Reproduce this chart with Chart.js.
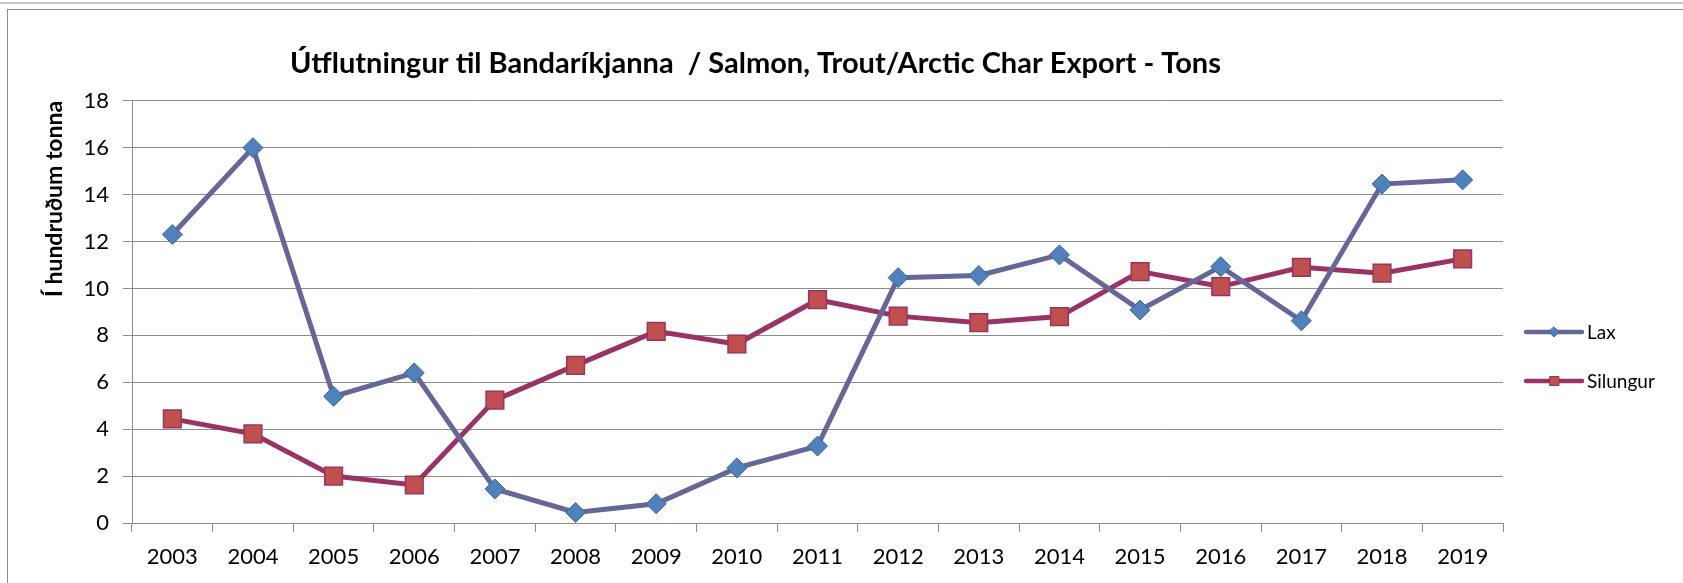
<!DOCTYPE html>
<html>
<head>
<meta charset="utf-8">
<script src="https://cdn.jsdelivr.net/npm/chart.js@4.4.1/dist/chart.umd.min.js"></script>
<style>
  body { margin: 0; background: #fff; }
  #wrap { position: relative; width: 1683px; height: 583px; overflow: hidden; }
  #chart { position: absolute; left: 0; top: 0; }
  .ln { position: absolute; }
</style>
</head>
<body>
<div id="wrap">
  <canvas id="chart" width="1683" height="583"></canvas>
  <div class="ln" style="left:0;top:2px;width:1683px;height:2px;background:#c8c8c8"></div>
  <div class="ln" style="left:7px;top:9px;width:1676px;height:1px;background:#8e8e8e"></div>
  <div class="ln" style="left:7px;top:9px;width:1px;height:574px;background:#8e8e8e"></div>
</div>
<script>
// arin og gildin (hundruð tonna)
var years = ['2003','2004','2005','2006','2007','2008','2009','2010','2011',
             '2012','2013','2014','2015','2016','2017','2018','2019'];
var lax = [12.3, 16.0, 5.4, 6.4, 1.45, 0.45, 0.82, 2.35, 3.28,
           10.46, 10.55, 11.43, 9.08, 10.93, 8.62, 14.45, 14.63];
var silungur = [4.44, 3.8, 2.0, 1.62, 5.24, 6.72, 8.17, 7.63, 9.52,
                8.82, 8.54, 8.8, 10.72, 10.08, 10.9, 10.65, 11.26];
var yTicks = [0, 2, 4, 6, 8, 10, 12, 14, 16, 18];

var FONT = 'Lato, "Open Sans", sans-serif';
var gridColor = '#8c8c8c';

// legend teiknad til haegri, eins og i Excel
var sideLegend = {
  id: 'sideLegend',
  afterDraw: function (chart) {
    var ctx = chart.ctx;
    var rows = [332, 381];
    chart.data.datasets.forEach(function (ds, i) {
      var y = rows[i];
      ctx.save();
      ctx.strokeStyle = ds.borderColor;
      ctx.lineWidth = 4.5;
      ctx.lineCap = 'round';
      ctx.beginPath();
      ctx.moveTo(1526, y);
      ctx.lineTo(1582, y);
      ctx.stroke();
      ctx.fillStyle = ds.pointBackgroundColor;
      ctx.strokeStyle = ds.pointBorderColor;
      ctx.lineWidth = 1;
      ctx.beginPath();
      if (ds.pointStyle === 'rectRot') {
        ctx.moveTo(1554, y - 5); ctx.lineTo(1559, y); ctx.lineTo(1554, y + 5); ctx.lineTo(1549, y);
      } else {
        ctx.rect(1550, y - 4.5, 9, 9);
      }
      ctx.closePath();
      ctx.fill();
      ctx.stroke();
      ctx.fillStyle = '#000';
      ctx.font = '19px ' + FONT;
      ctx.textBaseline = 'middle';
      ctx.fillText(ds.label, 1587, y + 1);
      ctx.restore();
    });
  }
};

var ctx = document.getElementById('chart').getContext('2d');
var chart = new Chart(ctx, {
  type: 'line',
  data: {
    labels: years,
    datasets: [
      {
        label: 'Lax',
        data: lax,
        borderColor: '#666699',
        borderWidth: 5,
        pointStyle: 'rectRot',
        pointRadius: 10,
        pointBackgroundColor: '#4F81BD',
        pointBorderColor: '#3C6494',
        pointBorderWidth: 1,
        tension: 0
      },
      {
        label: 'Silungur',
        data: silungur,
        borderColor: '#993366',
        borderWidth: 5,
        pointStyle: 'rect',
        pointRadius: 12.5,
        pointBackgroundColor: '#C0504D',
        pointBorderColor: '#993366',
        pointBorderWidth: 1.5,
        tension: 0
      }
    ]
  },
  options: {
    responsive: false,
    animation: false,
    layout: { padding: { left: 8, right: 180, top: 0, bottom: 0 } },
    plugins: {
      legend: { display: false },
      tooltip: { enabled: false },
      title: {
        display: true,
        text: 'Útflutningur til Bandaríkjanna  / Salmon, Trout/Arctic Char Export - Tons',
        color: '#000',
        font: { family: FONT, size: 29, weight: 'bold' },
        padding: { top: 46, bottom: 20 }
      }
    },
    scales: {
      x: {
        offset: true,
        grid: { offset: true, drawOnChartArea: false, color: gridColor, tickLength: 9 },
        border: { color: gridColor },
        ticks: { color: '#000', font: { family: FONT, size: 22 }, padding: 12, maxRotation: 0 },
        afterFit: function (s) { s.height = 60; }
      },
      y: {
        min: 0,
        max: 18,
        afterBuildTicks: function (s) { s.ticks = yTicks.map(function (v) { return { value: v }; }); },
        grid: { color: gridColor, tickLength: 9 },
        border: { color: gridColor },
        ticks: { color: '#000', font: { family: FONT, size: 22 }, padding: 14 },
        title: {
          display: true,
          text: 'Í hundruðum tonna',
          align: 'end',
          color: '#000',
          font: { family: FONT, size: 23, weight: 'bold' },
          padding: { top: 33, bottom: 0 }
        },
        afterFit: function (s) { s.width = 124; }
      }
    }
  },
  plugins: [sideLegend]
});
</script>
</body>
</html>
